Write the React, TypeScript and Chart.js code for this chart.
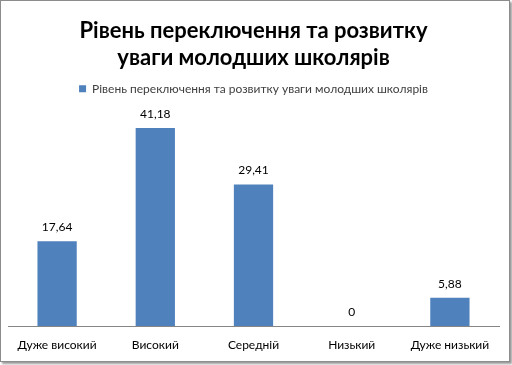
import React, { useEffect, useRef } from "react";
import { Chart, registerables } from "chart.js";

Chart.register(...registerables);

const titleLines = ["Рівень переключення та розвитку", "уваги молодших школярів"];
const seriesName = "Рівень переключення та розвитку уваги молодших школярів";
const categories = ["Дуже високий", "Високий", "Середній", "Низький", "Дуже низький"];
const values = [17.64, 41.18, 29.41, 0, 5.88];

const FONT = "Lato, 'Open Sans', sans-serif";

const dataLabels = {
  id: "dataLabels",
  afterDatasetsDraw(chart: any) {
    const ctx = chart.ctx;
    const meta = chart.getDatasetMeta(0);
    ctx.save();
    ctx.font = `12px ${FONT}`;
    ctx.fillStyle = "#000";
    ctx.textAlign = "center";
    ctx.textBaseline = "middle";
    meta.data.forEach((el: any, i: number) => {
      const v = chart.data.datasets[0].data[i] as number;
      const txt = String(v).replace(".", ",");
      ctx.fillText(txt, el.x, el.y - 14);
    });
    ctx.restore();
  },
};

export default function App() {
  const ref = useRef<HTMLCanvasElement>(null);
  useEffect(() => {
    document.body.style.margin = "0";
    const chart = new Chart(ref.current!, {
      type: "bar",
      data: {
        labels: categories,
        datasets: [
          {
            label: seriesName,
            data: values,
            backgroundColor: "#4f81bd",
            categoryPercentage: 1,
            barPercentage: 0.4,
          },
        ],
      },
      options: {
        animation: false,
        responsive: false,
        maintainAspectRatio: false,
        layout: { padding: { left: 7, right: 10, top: 0, bottom: 8 } },
        plugins: {
          title: {
            display: true,
            text: titleLines,
            font: { family: FONT, size: 22, weight: "bold" },
            color: "#000",
            padding: { top: 17, bottom: 4 },
            lineHeight: 1.3,
          },
          legend: {
            display: true,
            labels: {
              boxWidth: 7,
              boxHeight: 7,
              font: { family: FONT, size: 12 },
              color: "#404040",
              padding: 8,
            },
          },
          tooltip: { enabled: false },
        },
        scales: {
          x: {
            grid: { display: false, drawTicks: false },
            border: { display: true, color: "#868686" },
            ticks: { font: { family: FONT, size: 12 }, color: "#000", padding: 12, maxRotation: 0 },
            afterFit: (s: any) => {
              s.height = 27;
            },
          },
          y: {
            display: false,
            min: 0,
            max: 46,
          },
        },
      },
      plugins: [dataLabels],
    });
    return () => chart.destroy();
  }, []);
  return (
    <div
      style={{
        position: "absolute",
        left: 0,
        top: 0,
        width: 508,
        height: 360,
        border: "1px solid #8c8c8c",
        boxShadow: "2px 2px 2px #9a9a9a",
        background: "#fff",
      }}
    >
      <canvas ref={ref} width={508} height={360} style={{ display: "block" }} />
    </div>
  );
}
